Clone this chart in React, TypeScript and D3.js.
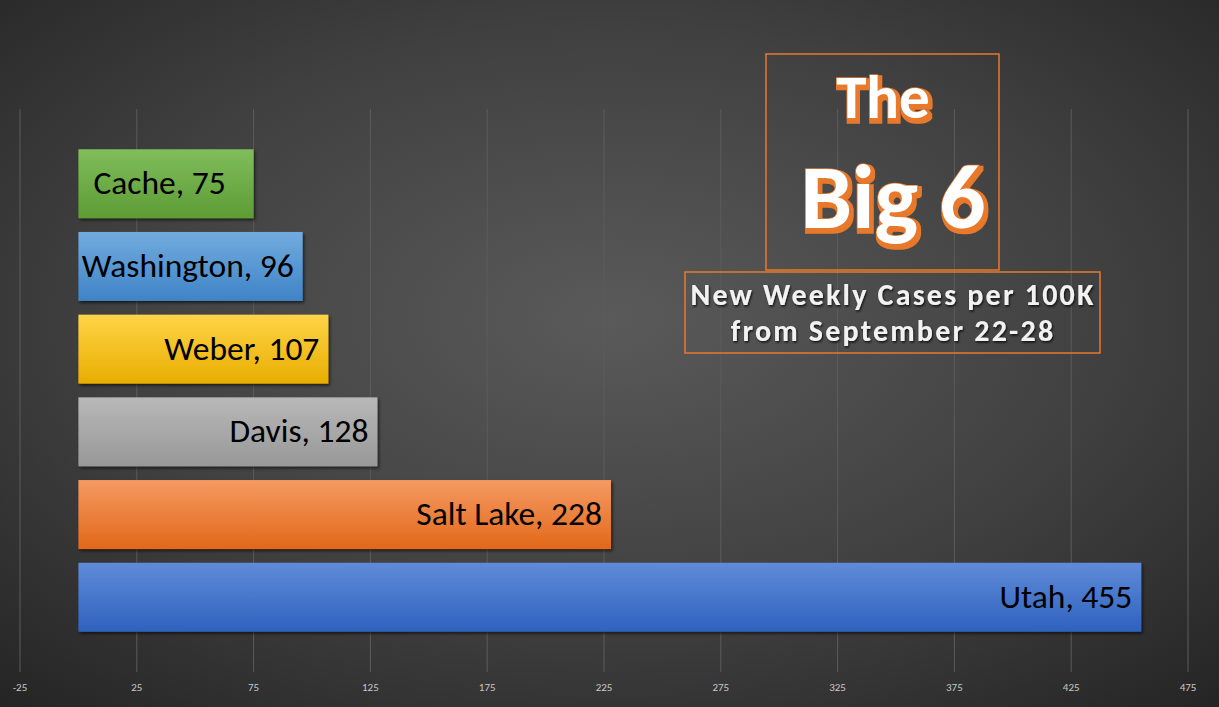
import React from "react";
import * as d3 from "d3";

const counties = ["Cache", "Washington", "Weber", "Davis", "Salt Lake", "Utah"];
const cases = [75, 96, 107, 128, 228, 455];
const tickValues = [-25, 25, 75, 125, 175, 225, 275, 325, 375, 425, 475];
const barTop = ["#80bd5c", "#72abde", "#ffd448", "#b8b8b8", "#f59a62", "#5f8bd8"];
const barBottom = ["#5d9c34", "#3f84c6", "#e8ae00", "#989898", "#e2681a", "#2e62bf"];
const labelAlign = ["start", "end", "end", "end", "end", "end"];

const W = 1219;
const H = 707;

export default function App() {
  const x = d3.scaleLinear().domain([-25, 475]).range([20, 1188]);
  const y = d3
    .scaleBand<string>()
    .domain(counties)
    .range([142.4, 638.6])
    .paddingInner(0.166)
    .paddingOuter(0.083);
  const font = "Carlito, Lato, 'Open Sans', sans-serif";

  return (
    <svg
      width={W}
      height={H}
      style={{ position: "absolute", left: 0, top: 0, display: "block" }}
    >
      <defs>
        <radialGradient id="bg" cx="0.5" cy="0.45" r="0.75">
          <stop offset="0" stopColor="#5a5a5a" />
          <stop offset="0.55" stopColor="#404040" />
          <stop offset="1" stopColor="#242424" />
        </radialGradient>
        {counties.map((c, i) => (
          <linearGradient key={c} id={`g${i}`} x1="0" y1="0" x2="0" y2="1">
            <stop offset="0" stopColor={barTop[i]} />
            <stop offset="1" stopColor={barBottom[i]} />
          </linearGradient>
        ))}
        <filter id="shadow" x="-5%" y="-20%" width="110%" height="150%">
          <feDropShadow dx="1.5" dy="2" stdDeviation="1.5" floodColor="#000" floodOpacity="0.6" />
        </filter>
        <filter id="tshadow" x="-5%" y="-20%" width="110%" height="150%">
          <feDropShadow dx="1" dy="1.5" stdDeviation="1" floodColor="#000" floodOpacity="0.8" />
        </filter>
        <filter id="oshadow" x="-10%" y="-20%" width="120%" height="150%">
          <feMorphology in="SourceAlpha" operator="dilate" radius="1.5" result="d" />
          <feOffset in="d" dx="2" dy="3" result="o" />
          <feFlood floodColor="#e8792c" />
          <feComposite in2="o" operator="in" result="s" />
          <feMerge>
            <feMergeNode in="s" />
            <feMergeNode in="SourceGraphic" />
          </feMerge>
        </filter>
      </defs>
      <rect x={0} y={0} width={W} height={H} fill="url(#bg)" />

      {tickValues.map((t) => (
        <g key={t}>
          <line
            x1={x(t)}
            x2={x(t)}
            y1={109}
            y2={672}
            stroke="#5c5c5c"
            strokeWidth={1}
          />
          <text
            x={x(t)}
            y={691}
            textAnchor="middle"
            fill="#c8c8c8"
            fontSize={11}
            fontFamily={font}
          >
            {t}
          </text>
        </g>
      ))}

      {counties.map((c, i) => {
        const y0 = y(c)!;
        const bw = y.bandwidth();
        const x0 = x(0);
        const x1 = x(cases[i]);
        const anchor = labelAlign[i];
        return (
          <g key={c}>
            <rect
              x={x0}
              y={y0}
              width={x1 - x0}
              height={bw}
              fill={`url(#g${i})`}
              filter="url(#shadow)"
            />
            <text
              x={anchor === "start" ? x0 + 15 : x1 - 9}
              y={y0 + bw / 2 + 10.5}
              textAnchor={anchor}
              fill="#000"
              fontSize={33.5}
              fontFamily={font}
            >
              {`${c}, ${cases[i]}`}
            </text>
          </g>
        );
      })}

      {/* Title box */}
      <rect x={766} y={54} width={233} height={216} fill="none" stroke="#e8792c" strokeWidth={1.5} />
      <g fontFamily={font} fontWeight={700} textAnchor="middle" filter="url(#oshadow)">
        <text x={883} y={118} fontSize={61} fill="#fff" stroke="#e8792c" strokeWidth={1.5} paintOrder="stroke">
          The
        </text>
        <text x={893} y={228} fontSize={92} fill="#fff" stroke="#e8792c" strokeWidth={1.5} paintOrder="stroke">
          Big 6
        </text>
      </g>

      {/* Subtitle box */}
      <rect x={685} y={272} width={415} height={81} fill="none" stroke="#e8792c" strokeWidth={1.5} />
      <g fontFamily={font} fontWeight={700} textAnchor="middle" fill="#f2f2f2" fontSize={30} filter="url(#tshadow)" letterSpacing={2.2}>
        <text x={893} y={305}>New Weekly Cases per 100K</text>
        <text x={893} y={341}>from September 22-28</text>
      </g>
    </svg>
  );
}
